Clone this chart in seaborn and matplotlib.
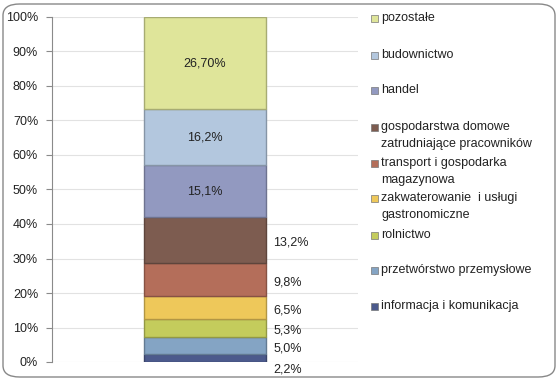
import matplotlib
matplotlib.use('Agg')
import matplotlib.pyplot as plt
import seaborn as sns
from matplotlib.patches import FancyBboxPatch, Rectangle
import matplotlib.colors as mcolors

# data, bottom to top of the stack
sectors = ['informacja i komunikacja', 'przetwórstwo przemysłowe', 'rolnictwo',
           'zakwaterowanie  i usługi\ngastronomiczne', 'transport i gospodarka\nmagazynowa',
           'gospodarstwa domowe\nzatrudniające pracowników', 'handel', 'budownictwo', 'pozostałe']
shares = [2.2, 5.0, 5.3, 6.5, 9.8, 13.2, 15.1, 16.2, 26.7]
value_labels = ['2,2%', '5,0%', '5,3%', '6,5%', '9,8%', '13,2%', '15,1%', '16,2%', '26,70%']
colors = ['#4c5a8c', '#84a4c4', '#c4cc5c', '#eec85a', '#b46e5a',
          '#7d5c50', '#9299c0', '#b3c7de', '#dfe59a']
inside = [False, False, False, False, False, False, True, True, True]

sns.set_style('white')
plt.rcParams['font.family'] = ['Liberation Sans', 'DejaVu Sans']
FS = 9

W, H = 559, 380
fig = plt.figure(figsize=(W / 100, H / 100), dpi=100)
ax = fig.add_axes([52 / W, 1 - 362 / H, (358 - 52) / W, (362 - 17) / H])

bottom = 0
for i, (name, v) in enumerate(zip(sectors, shares)):
    edge = mcolors.to_hex([c * 0.75 for c in mcolors.to_rgb(colors[i])])
    sns.barplot(x=[0], y=[v], bottom=bottom, color=colors[i], width=0.4,
                edgecolor=edge, linewidth=1, ax=ax, saturation=1, zorder=3)
    mid = bottom + v / 2
    if inside[i]:
        ax.text(0, mid, value_labels[i], ha='center', va='center', fontsize=FS, color='#222222', zorder=4)
    else:
        off = -8 if i == 0 else -2
        ax.annotate(value_labels[i], (0.2, mid), xytext=(5, off), textcoords='offset points',
                    ha='left', va='center', fontsize=FS, color='#222222', annotation_clip=False)
    bottom += v

ax.set_xlim(-0.5, 0.5)
ax.set_ylim(0, 100)
ax.set_yticks(range(0, 101, 10))
ax.set_yticklabels([f'{t}%' for t in range(0, 101, 10)], fontsize=FS, color='#222222')
ax.set_xticks([])
ax.set_xlabel('')
ax.set_ylabel('')
for t in range(0, 101, 10):
    ax.axhline(t, color='#e2e2e2', lw=0.8, zorder=1)
for s in ['top', 'right', 'bottom']:
    ax.spines[s].set_visible(False)
ax.spines['left'].set_color('#8a8a8a')
ax.spines['left'].set_linewidth(0.8)
ax.tick_params(axis='y', length=4, width=0.8, color='#8a8a8a', left=True, pad=6)

# legend, top entry = top of the stack
leg_y = [18, 55, 90, 127, 163, 198, 235, 270, 306]
for k, i in enumerate(range(len(sectors) - 1, -1, -1)):
    y = leg_y[k]
    fig.patches.append(Rectangle((371 / W, 1 - (y + 3.5) / H), 7 / W, 7 / H,
                                 transform=fig.transFigure, facecolor=colors[i],
                                 edgecolor='#777777', linewidth=0.5))
    lines = sectors[i].split('\n')
    fig.text(381 / W, 1 - y / H, lines[0], ha='left', va='center', fontsize=FS, color='#222222')
    if len(lines) > 1:
        fig.text(381 / W, 1 - (y + 17) / H, lines[1], ha='left', va='center', fontsize=FS, color='#222222')

fig.patches.append(FancyBboxPatch((3 / W, 3 / H), (W - 7) / W, (H - 7) / H,
                                  boxstyle='round,pad=0,rounding_size=0.03',
                                  transform=fig.transFigure, facecolor='none',
                                  edgecolor='#888888', linewidth=1))

fig.savefig('out.png', dpi=100)
